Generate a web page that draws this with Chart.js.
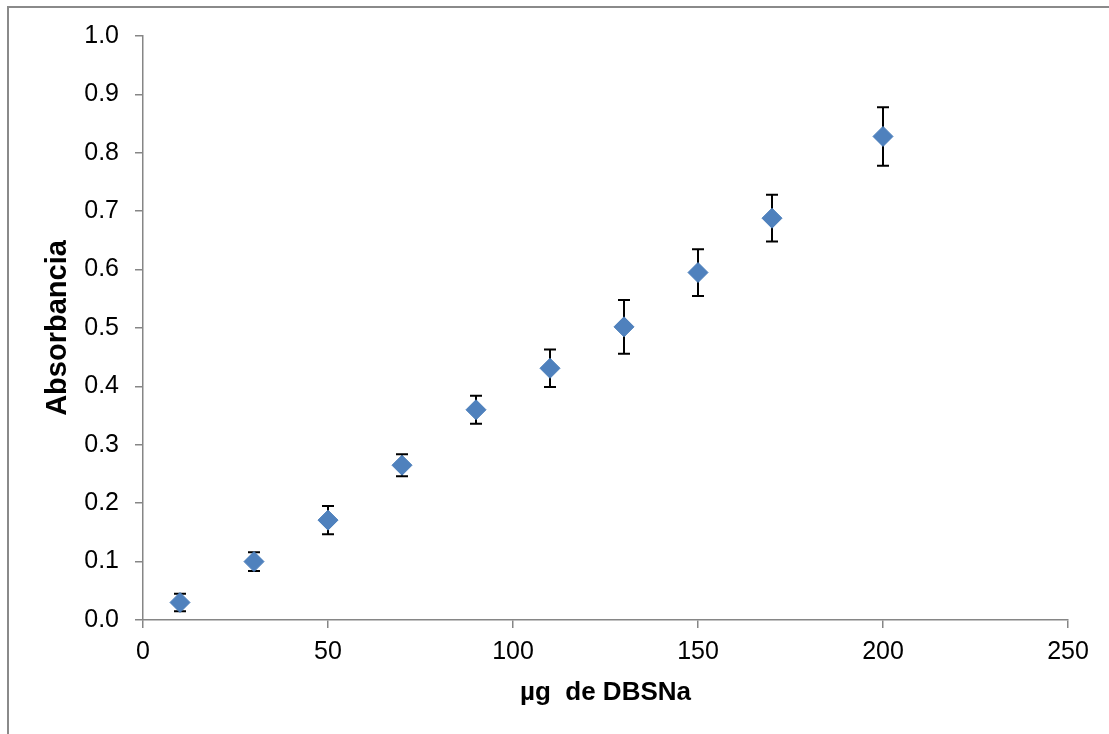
<!DOCTYPE html>
<html>
<head>
<meta charset="utf-8">
<script src="https://cdn.jsdelivr.net/npm/chart.js@4/dist/chart.umd.min.js"></script>
<style>
  body { margin: 0; background: #fff; }
  #wrap { position: relative; width: 1109px; height: 734px; overflow: hidden; }
  #frame { position: absolute; left: 7px; top: 6px; right: -10px; bottom: -10px; border-top: 2px solid #8a8a8a; border-left: 2px solid #8a8a8a; }
  canvas { position: absolute; left: 0; top: 0; }
</style>
</head>
<body>
<div id="wrap">
  <div id="frame"></div>
  <canvas id="chart" width="1109" height="734"></canvas>
</div>
<script>
// µg de DBSNa vs absorbancia
const xVals = [10, 30, 50, 70, 90, 110, 130, 150, 170, 200];
const yVals = [0.030, 0.100, 0.171, 0.265, 0.360, 0.431, 0.502, 0.595, 0.688, 0.828];
const yErr  = [0.015, 0.016, 0.024, 0.019, 0.024, 0.032, 0.046, 0.040, 0.040, 0.050];

const xTitle = 'µg  de DBSNa';
const yTitle = 'Absorbancia';

const axisGray = '#868686';
const fontFam = "'Liberation Sans', Arial, sans-serif";

// error bars drawn under the markers
const errorBars = {
  id: 'errorBars',
  beforeDatasetsDraw(chart) {
    const ctx = chart.ctx;
    const xs = chart.scales.x, ys = chart.scales.y;
    ctx.save();
    ctx.strokeStyle = '#000';
    ctx.lineWidth = 2;
    xVals.forEach((xv, i) => {
      const px = xs.getPixelForValue(xv);
      const top = ys.getPixelForValue(yVals[i] + yErr[i]);
      const bot = ys.getPixelForValue(yVals[i] - yErr[i]);
      ctx.beginPath();
      ctx.moveTo(px, top); ctx.lineTo(px, bot);
      ctx.moveTo(px - 6, top); ctx.lineTo(px + 6, top);
      ctx.moveTo(px - 6, bot); ctx.lineTo(px + 6, bot);
      ctx.stroke();
    });
    ctx.restore();
  }
};

new Chart(document.getElementById('chart').getContext('2d'), {
  type: 'scatter',
  data: {
    datasets: [{
      data: xVals.map((x, i) => ({ x: x, y: yVals[i] })),
      pointStyle: 'rectRot',
      pointRadius: 10,
      pointHoverRadius: 10,
      backgroundColor: '#4F81BD',
      borderColor: '#4A7DBA',
      borderWidth: 1
    }]
  },
  options: {
    responsive: false,
    animation: false,
    layout: { padding: { top: 36, right: 41, bottom: 0, left: 0 } },
    plugins: { legend: { display: false }, tooltip: { enabled: false } },
    scales: {
      x: {
        type: 'linear', min: 0, max: 250,
        afterFit(s) { s.height = 114; },
        border: { color: axisGray, width: 1.5 },
        grid: { drawOnChartArea: false, tickLength: 8, color: axisGray, lineWidth: 1.5 },
        ticks: { stepSize: 50, padding: 9, color: '#000', font: { family: fontFam, size: 25 } },
        title: { display: true, text: xTitle, color: '#000', padding: { top: 0, bottom: 26 },
                 font: { family: fontFam, size: 26, weight: 'bold' } }
      },
      y: {
        type: 'linear', min: 0, max: 1,
        afterFit(s) { s.width = 143; },
        border: { color: axisGray, width: 1.5 },
        grid: { drawOnChartArea: false, tickLength: 8, color: axisGray, lineWidth: 1.5 },
        ticks: { stepSize: 0.1, padding: 16, color: '#000', font: { family: fontFam, size: 25 },
                 callback: v => v.toFixed(1) },
        title: { display: true, text: yTitle, color: '#000', padding: { top: 41, bottom: 0 },
                 font: { family: fontFam, size: 29, weight: 'bold' } }
      }
    }
  },
  plugins: [errorBars]
});
</script>
</body>
</html>
